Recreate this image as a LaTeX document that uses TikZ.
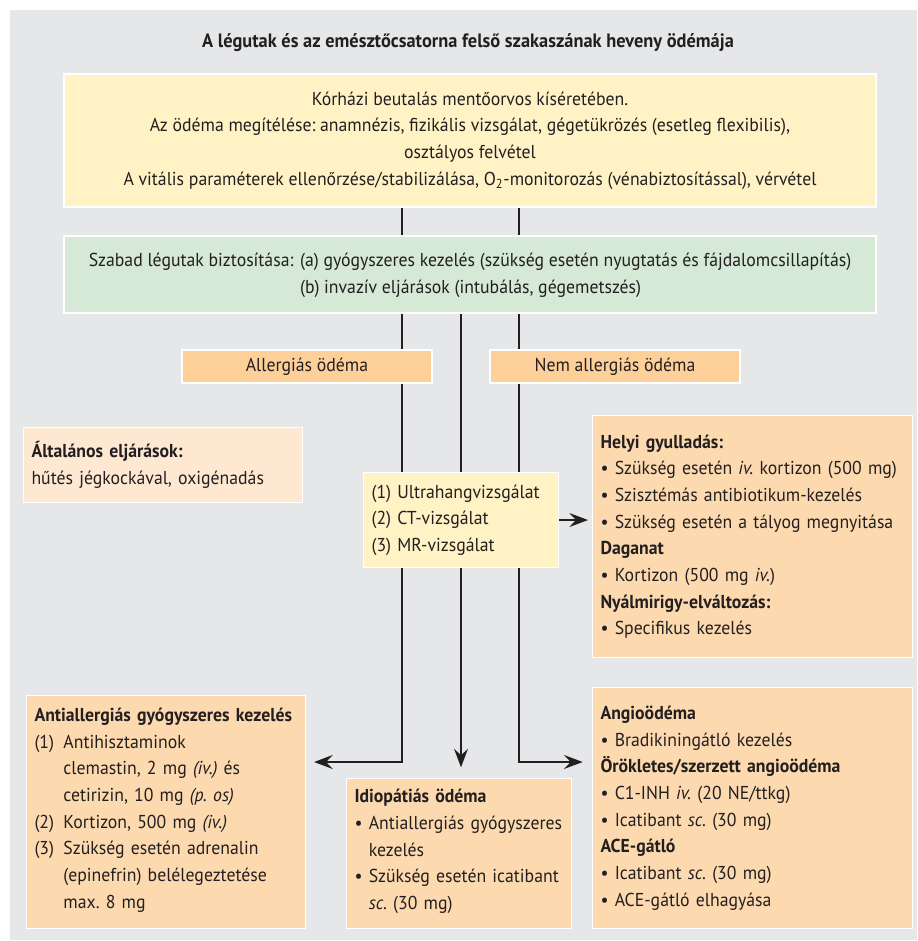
\documentclass[tikz,border=0pt]{standalone}
\usepackage{fontspec}
\setmainfont{PT Sans}[FakeStretch=0.95]
\usetikzlibrary{arrows.meta,backgrounds}
\pgfdeclarelayer{lines}
\pgfsetlayers{background,lines,main}

\definecolor{bggrey}{HTML}{E6E7E9}
\definecolor{boxyellow}{HTML}{FFF3C6}
\definecolor{boxgreen}{HTML}{D5E9D6}
\definecolor{boxorange}{HTML}{FDD09A}
\definecolor{boxpeach}{HTML}{FEE8D2}
\definecolor{boxtan}{HTML}{FCD9AE}
\definecolor{ink}{HTML}{231F20}

\tikzset{
  box/.style={draw=white, line width=0.8pt, inner xsep=6pt, inner ysep=2pt, text=ink, font=\fontsize{14}{20}\selectfont},
  lbox/.style={box, anchor=north west, align=left},
  conn/.style={draw=ink, line width=0.9pt},
  arr/.style={conn, -{Stealth[length=14pt,width=10.5pt,inset=5pt]}}
}

\begin{document}
\frenchspacing
\begin{tikzpicture}[x=0.75pt,y=-0.75pt]
\useasboundingbox (0,0) rectangle (917,941);
\begin{pgfonlayer}{background}
\fill[bggrey] (10,10) rectangle (917,940);
\end{pgfonlayer}

\node[text=ink, font=\fontsize{14.5}{18}\selectfont\bfseries] (title) at (468,43) {A légutak és az emésztőcsatorna felső szakaszának heveny ödémája};

\node[box, fill=boxyellow, minimum width=609pt, minimum height=99.75pt, align=center] (felvetel) at (470,140.5)
  {Kórházi beutalás mentőorvos kíséretében.\\
   Az ödéma megítélése: anamnézis, fizikális vizsgálat, gégetükrözés (esetleg flexibilis),\\
   osztályos felvétel\\
   A vitális paraméterek ellenőrzése/stabilizálása, O\textsubscript{2}-monitorozás (vénabiztosítással), vérvétel};

\node[box, fill=boxgreen, minimum width=609pt, minimum height=57.75pt] (legut) at (470,274.5)
  {\begin{tabular}{@{}l@{\hspace{5pt}}l@{}}
   Szabad légutak biztosítása: & (a) gyógyszeres kezelés (szükség esetén nyugtatás és fájdalomcsillapítás)\\
   & (b) invazív eljárások (intubálás, gégemetszés)
   \end{tabular}};

\node[box, fill=boxorange, minimum width=187.5pt, minimum height=24.75pt] (allerg) at (307,366.5) {Allergiás ödéma};
\node[box, fill=boxorange, minimum width=187.5pt, minimum height=24.75pt] (nemallerg) at (615,366.5) {Nem allergiás ödéma};

\node[lbox, fill=boxpeach, text width=197.25pt, minimum height=56.25pt] (altal) at (23,427)
  {\textbf{Általános eljárások:}\\ hűtés jégkockával, oxigénadás};

\node[lbox, fill=boxyellow, text width=134.25pt, minimum height=71.25pt] (vizsg) at (363,472)
  {(1) Ultrahangvizsgálat\\ (2) CT-vizsgálat\\ (3) MR-vizsgálat};

\node[lbox, fill=boxtan, text width=228pt, minimum height=181.5pt] (helyi) at (592,415)
  {\textbf{Helyi gyulladás:}\\
   \textbullet\ Szükség esetén \textit{iv.} kortizon (500 mg)\\
   \textbullet\ Szisztémás antibiotikum-kezelés\\
   \textbullet\ Szükség esetén a tályog megnyitása\\
   \textbf{Daganat}\\
   \textbullet\ Kortizon (500 mg \textit{iv.})\\
   \textbf{Nyálmirigy-elváltozás:}\\
   \textbullet\ Specifikus kezelés};

\node[lbox, fill=boxtan, text width=197.25pt, minimum height=174.75pt] (anti) at (26,695)
  {\textbf{Antiallergiás gyógyszeres kezelés}\\
   \begin{tabular}[t]{@{}l@{\hspace{7pt}}l@{}}
   (1) & Antihisztaminok\\
       & clemastin, 2 mg \textit{(iv.)} és\\
       & cetirizin, 10 mg \textit{(p. os)}\\
   (2) & Kortizon, 500 mg \textit{(iv.)}\\
   (3) & Szükség esetén adrenalin\\
       & (epinefrin) belélegeztetése\\
       & max. 8 mg
   \end{tabular}};

\node[lbox, fill=boxtan, text width=156.75pt, minimum height=112.5pt] (idio) at (346,778)
  {\textbf{Idiopátiás ödéma}\\
   \begin{tabular}[t]{@{}l@{\ }l@{}}
   \textbullet & Antiallergiás gyógyszeres\\
               & kezelés\\
   \textbullet & Szükség esetén icatibant\\
               & \textit{sc.} (30 mg)
   \end{tabular}};

\node[lbox, fill=boxtan, text width=228pt, minimum height=180.75pt] (angio) at (592,687)
  {\textbf{Angioödéma}\\
   \textbullet\ Bradikiningátló kezelés\\
   \textbf{Örökletes/szerzett angioödéma}\\
   \textbullet\ C1-INH \textit{iv.} (20 NE/ttkg)\\
   \textbullet\ Icatibant \textit{sc.} (30 mg)\\
   \textbf{ACE-gátló}\\
   \textbullet\ Icatibant \textit{sc.} (30 mg)\\
   \textbullet\ ACE-gátló elhagyása};

% connectors, behind the boxes
\coordinate (bal) at (402,0);
\coordinate (kozep) at (461,0);
\coordinate (jobb) at (519,0);
\coordinate (kanyar) at (0,762);
\begin{pgfonlayer}{lines}
\draw[conn] (felvetel.south -| bal) -- (legut.north -| bal);
\draw[conn] (felvetel.south -| jobb) -- (legut.north -| jobb);
\draw[arr, shorten >=6pt] (legut.south -| bal) |- (anti.east |- kanyar);
\draw[arr, shorten >=8pt] (legut.south -| kozep) -- (idio.north -| kozep);
\draw[arr, shorten >=7pt] (legut.south -| jobb) |- (angio.west |- kanyar);
\draw[arr, shorten >=3pt] (vizsg.east) -- (helyi.west |- vizsg.east);
\end{pgfonlayer}
\end{tikzpicture}
\end{document}
